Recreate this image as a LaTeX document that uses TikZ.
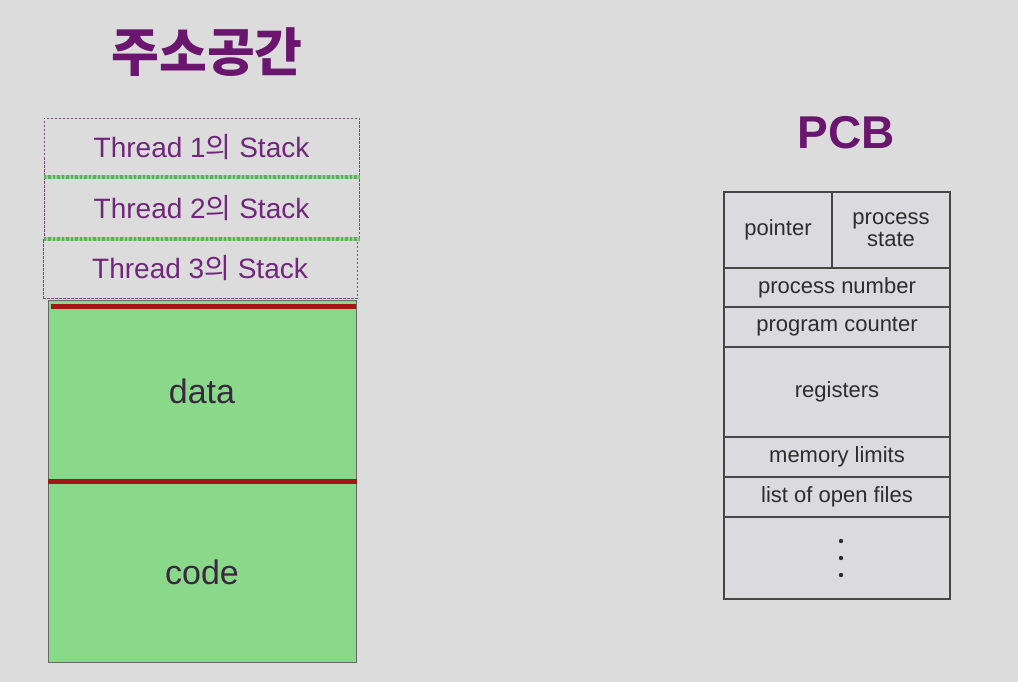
\documentclass[tikz,border=0pt]{standalone}
\usepackage{fontspec}
\setmainfont{Liberation Sans}
\newfontfamily\krfont{Noto Sans CJK KR}
\usetikzlibrary{positioning}
\definecolor{bg}{RGB}{220,220,220}
\definecolor{ttl}{RGB}{106,22,110}
\definecolor{stk}{RGB}{112,38,122}
\definecolor{memg}{RGB}{138,217,138}
\definecolor{redl}{RGB}{165,22,22}
\definecolor{wavg}{RGB}{95,175,95}
\definecolor{wavl}{RGB}{150,210,150}
\definecolor{pcbfill}{RGB}{218,218,223}
\definecolor{pcbline}{RGB}{70,70,70}
\definecolor{pcbtext}{RGB}{45,45,45}
\definecolor{memtext}{RGB}{58,40,64}
\begin{document}
\begin{tikzpicture}[x=1pt,y=-1pt,
  stackbox/.style={draw=stk!55!gray, dashed, dash pattern=on 2.5pt off 1.5pt, line width=0.9pt, inner sep=0pt, text=stk, font=\fontsize{28}{30}\selectfont},
  membox/.style={draw=gray!80!black, line width=1pt, fill=memg, inner sep=0pt, text=memtext, font=\fontsize{34}{38}\selectfont},
  cell/.style={draw=pcbline, line width=1.5pt, fill=pcbfill, inner sep=0pt, text=pcbtext, font=\fontsize{22}{24}\selectfont, align=center},
  wavebase/.style={draw=wavl, line width=4pt},
  wave/.style={draw=wavg, line width=4pt, dash pattern=on 2.5pt off 2pt},
  redline/.style={draw=redl, line width=4.5pt},
  titletext/.style={text=ttl, font=\bfseries\fontsize{46}{50}\selectfont}
]
\fill[bg] (0,0) rectangle (1018,682);
\useasboundingbox (0,0) rectangle (1018,682);

% title
\node[titletext, font=\krfont\bfseries\fontsize{52}{56}\selectfont] (title) at (207,52) {주소공간};
\node[titletext] (pcbt) at (846,133) {PCB};

% memory
\node[membox, minimum width=308, minimum height=182] (data) at (202,391) {data};
\node[membox, minimum width=308, minimum height=180] (code) at (202,572) {code};
\draw[redline] ([xshift=3pt,yshift=-7pt]data.north west) -- ([xshift=-1pt,yshift=-7pt]data.north east);
\draw[redline] (code.north west) -- (code.north east);

% stacks
\node[stackbox, minimum width=315, minimum height=59] (t1) at (201.5,147.5) {Thread 1{\krfont 의} Stack};
\node[stackbox, minimum width=315, minimum height=62] (t2) at (201.5,208) {Thread 2{\krfont 의} Stack};
\node[stackbox, minimum width=314, minimum height=59] (t3) at (200,268.5) {Thread 3{\krfont 의} Stack};
\draw[wavebase] (t1.south west) -- (t1.south east);
\draw[wave] (t1.south west) -- (t1.south east);
\draw[wavebase] (t2.south west) -- (t2.south east);
\draw[wave] (t2.south west) -- (t2.south east);

% PCB
\node[cell, minimum width=108, minimum height=76] (ptr) at (778,230) {pointer};
\node[cell, minimum width=118, minimum height=76] (pst) at (891,230) {process\\[-2pt]state};
\node[cell, minimum width=226, minimum height=39] (pnum) at (837,287.5) {process number};
\node[cell, minimum width=226, minimum height=40] (pc) at (837,327) {program counter};
\node[cell, minimum width=226, minimum height=90] (reg) at (837,392) {registers};
\node[cell, minimum width=226, minimum height=40] (mem) at (837,457) {memory limits};
\node[cell, minimum width=226, minimum height=40] (files) at (837,497) {list of open files};
\node[cell, minimum width=226, minimum height=82] (more) at (837,558) {};
\foreach \yy/\nm in {-17/d1,0/d2,17/d3}
  \fill[pcbtext] ([yshift=\yy pt, xshift=4pt]more.center) circle (2.2pt) coordinate (\nm);
\end{tikzpicture}
\end{document}
